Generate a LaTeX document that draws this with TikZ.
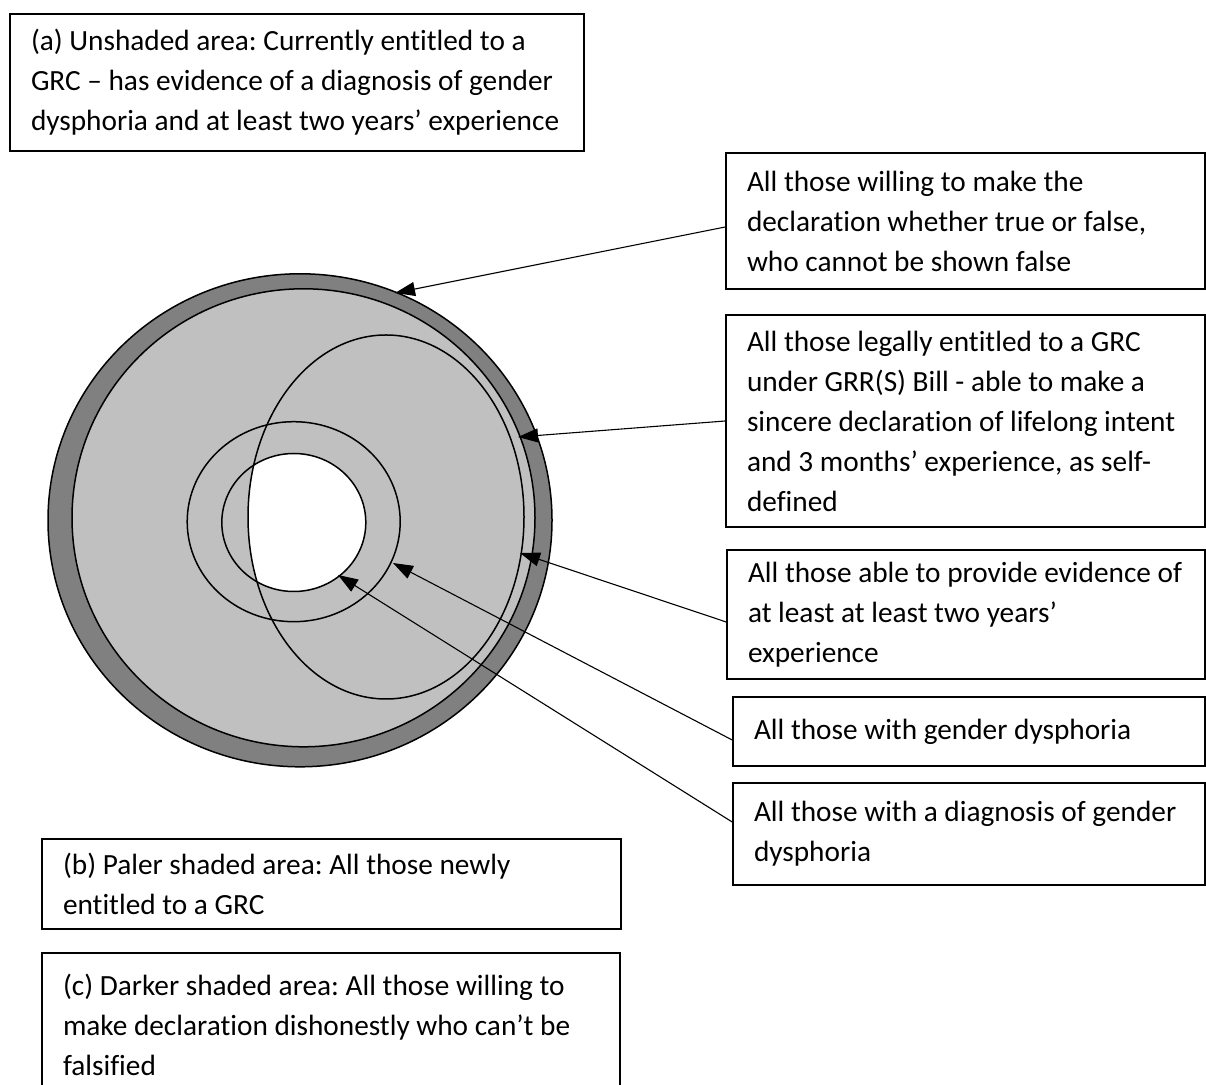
\documentclass[tikz,border=0pt]{standalone}
\usepackage{fontspec}
\setmainfont{Carlito}[Ligatures={TeX,NoCommon}]
\usetikzlibrary{arrows.meta}
\definecolor{ringgrey}{HTML}{808080}
\definecolor{discgrey}{HTML}{C0C0C0}

\begin{document}
\begin{tikzpicture}[
    x=1pt, y=1pt,
    label box/.style={draw, line width=1.6pt, inner xsep=21pt, inner ysep=0pt,
      align=flush left, font=\fontsize{29.3}{40}\selectfont\frenchspacing},
    pointer/.style={-{Triangle[length=20pt,width=14pt]}, line width=1.1pt},
    rim/.style={line width=1.5pt}
  ]
  \useasboundingbox (0,0) rectangle (1206,1084);

  % the discs
  \draw[rim, fill=ringgrey] (300,563.7) ellipse [x radius=252, y radius=246.5];
  \draw[rim, fill=discgrey] (303.5,566.2) ellipse [x radius=231.5, y radius=229];
  \begin{scope}
    \clip (386,567) ellipse [x radius=138, y radius=182];
    \fill[white] (293.8,561.5) ellipse [x radius=72, y radius=69];
  \end{scope}
  \draw[rim] (386,567) ellipse [x radius=138, y radius=182];
  \draw[rim] (293.7,562.3) ellipse [x radius=106.5, y radius=100];
  \draw[rim] (293.8,561.5) ellipse [x radius=72, y radius=69];

  % where the arrows land
  \coordinate (willing tip) at (395,791);
  \coordinate (legal tip) at (518,647);
  \coordinate (evidence tip) at (520,531);
  \coordinate (dysphoria tip) at (393,521);
  \coordinate (diagnosis tip) at (338,509);

  % the boxes
  \node[label box, text width=532pt, minimum height=137pt] (unshaded) at (297,1001.5)
    {(a) Unshaded area: Currently entitled to a\\GRC – has evidence of a diagnosis of gender\\dysphoria and at least two years’ experience};
  \node[label box, text width=437pt, minimum height=136pt] (willing) at (965.5,863)
    {All those willing to make the\\declaration whether true or false,\\who cannot be shown false};
  \node[label box, text width=437pt, minimum height=212pt] (legal) at (965.5,663)
    {All those legally entitled to a GRC\\under GRR(S) Bill - able to make a\\sincere declaration of lifelong intent\\and 3 months’ experience, as self-\\defined};
  \node[label box, text width=436pt, minimum height=129pt] (evidence) at (966,469.5)
    {All those able to provide evidence of\\at least at least two years’\\experience};
  \node[label box, text width=430pt, minimum height=69pt] (dysphoria) at (969,352.5)
    {All those with gender dysphoria};
  \node[label box, text width=430pt, minimum height=102pt] (diagnosis) at (969,250)
    {All those with a diagnosis of gender\\dysphoria};
  \node[label box, text width=537pt, minimum height=90pt] (paler) at (331.5,200)
    {(b) Paler shaded area: All those newly\\entitled to a GRC};
  \node[label box, text width=536pt, minimum height=143pt] (darker) at (331,59.5)
    {(c) Darker shaded area: All those willing to\\make declaration dishonestly who can’t be\\falsified};

  \draw[pointer] ([yshift=-6pt]willing.west) -- (willing tip);
  \draw[pointer] (legal.west) -- (legal tip);
  \draw[pointer] ([yshift=-7.5pt]evidence.west) -- (evidence tip);
  \draw[pointer] ([yshift=-8.5pt]dysphoria.west) -- (dysphoria tip);
  \draw[pointer] ([yshift=12pt]diagnosis.west) -- (diagnosis tip);
\end{tikzpicture}
\end{document}
